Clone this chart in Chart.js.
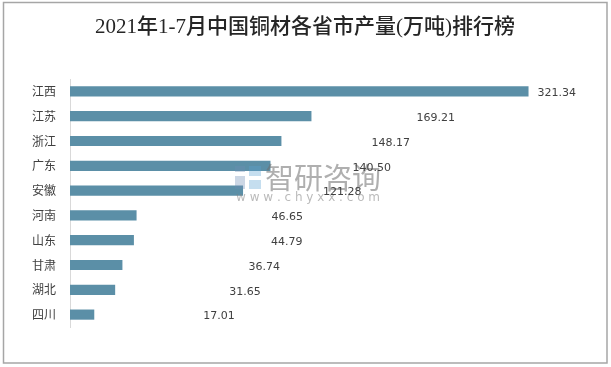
<!DOCTYPE html>
<html>
<head>
<meta charset="utf-8">
<script src="https://cdn.jsdelivr.net/npm/chart.js@4"></script>
<style>
    body { margin: 0; background: #fff; }
    .wrap { width: 611px; height: 367px; position: relative; }
</style>
</head>
<body>
<div class="wrap"><canvas id="myChart" width="611" height="367"></canvas></div>
<script>
const provinces = ['江西', '江苏', '浙江', '广东', '安徽', '河南', '山东', '甘肃', '湖北', '四川']
const output = [321.34, 169.21, 148.17, 140.50, 121.28, 46.65, 44.79, 36.74, 31.65, 17.01]
const titleText = '2021年1-7月中国铜材各省市产量(万吨)排行榜'

// the value labels sit at odd spots in the original, pushed right of the bar end
const labelShift = [9, 105, 90, 82, 80, 135, 137, 126, 114, 109]

const frameAndText = {
    id: 'frameAndText',
    beforeDraw(chart) {
        const c = chart.ctx
        c.save()
        c.fillStyle = '#fff'
        c.fillRect(0, 0, chart.width, chart.height)
        c.strokeStyle = '#a6a6a6'
        c.lineWidth = 1.5
        c.strokeRect(3.5, 2.5, 603.5, 360.5)
        c.fillStyle = '#262626'
        c.font = '500 21px "Liberation Serif", "Noto Sans CJK SC"'
        c.textAlign = 'center'
        c.textBaseline = 'middle'
        c.fillText(titleText, 305, 27)
        c.restore()
    },
    afterDatasetsDraw(chart) {
        const c = chart.ctx
        c.save()
        // watermark
        c.fillStyle = 'rgba(110, 140, 180, 0.35)'
        c.fillRect(235, 166, 10, 6)
        c.fillRect(235, 176, 10, 13)
        c.fillStyle = 'rgba(90, 160, 210, 0.35)'
        c.fillRect(249, 166, 12, 10)
        c.fillRect(249, 180, 12, 9)
        c.fillStyle = 'rgba(110, 110, 110, 0.55)'
        c.font = '29px "Noto Sans CJK SC"'
        c.textBaseline = 'middle'
        c.fillText('智研咨询', 265, 178)
        c.fillStyle = 'rgba(130, 130, 130, 0.55)'
        c.font = '12px "DejaVu Sans"'
        c.fillText('w w w . c h y x x . c o m', 236, 198)

        // value labels
        const bars = chart.getDatasetMeta(0).data
        c.fillStyle = '#404040'
        c.font = '11px "DejaVu Sans"'
        c.textAlign = 'left'
        bars.forEach((bar, i) => {
            c.fillText(output[i].toFixed(2), bar.x + labelShift[i], bar.y + 2)
        })
        c.restore()
    }
}

const ctx = document.getElementById('myChart').getContext('2d')
const myChart = new Chart(ctx, {
    type: 'bar',
    data: {
        labels: provinces,
        datasets: [{
            data: output,
            backgroundColor: '#5b8fa7',
            categoryPercentage: 1,
            barPercentage: 0.41
        }]
    },
    options: {
        indexAxis: 'y',
        responsive: false,
        animation: false,
        layout: {
            padding: { top: 79, bottom: 40, left: 0, right: 43 }
        },
        scales: {
            x: {
                display: false,
                min: 0,
                max: 349
            },
            y: {
                afterFit(scale) {
                    scale.width = 70
                },
                grid: {
                    drawOnChartArea: false,
                    drawTicks: false,
                    color: 'transparent'
                },
                border: { color: '#d9d9d9', width: 1 },
                ticks: {
                    padding: 14,
                    color: '#404040',
                    font: { size: 12, family: '"Noto Sans CJK SC"' }
                }
            }
        },
        plugins: {
            legend: { display: false },
            tooltip: { enabled: false }
        }
    },
    plugins: [frameAndText]
})
</script>
</body>
</html>
